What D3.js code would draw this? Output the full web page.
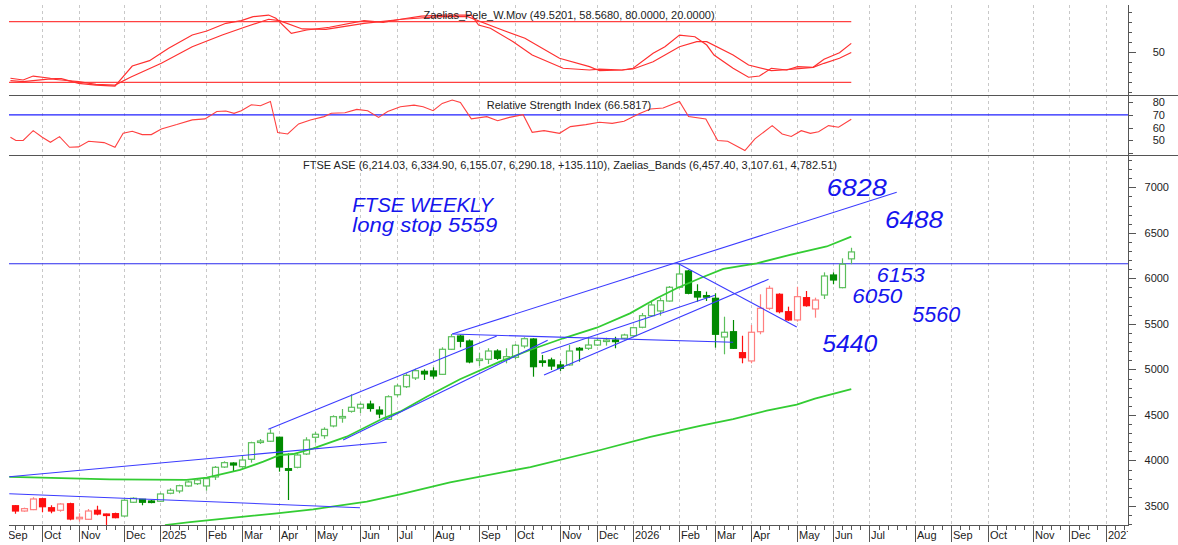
<!DOCTYPE html>
<html><head><meta charset="utf-8">
<script src="https://cdn.jsdelivr.net/npm/d3@7/dist/d3.min.js"></script>
<style>
body{margin:0;background:#fff}
svg{display:block}
text{font-family:"Liberation Sans",Arial,sans-serif}
</style></head>
<body><svg id="chart" width="1178" height="545"></svg>
<script>
// ---------------- DATA ----------------
// weekly bars, week index 1..93 (week 0 = Fri 6 Sep 2024)
const firstWeek = 1;
const opens  = [3503,3445,3460,3580,3481,3453,3525,3374,3354,3453,3412,3416,3390,3541,3574,3555,3552,3640,3665,3720,3745,3720,3819,3928,3972,3932,4013,4200,4211,4255,3910,3925,4071,4255,4272,4379,4481,4540,4576,4620,4554,4452,4722,4810,4906,4979,4983,4946,5221,5367,5312,5111,5111,5202,5111,5133,5257,5334,5093,5104,5049,5049,5232,5232,5268,5321,5323,5342,5370,5463,5590,5642,5751,5902,6081,5854,5810,5781,5356,5414,5184,5093,5414,5671,5825,5634,5543,5788,5664,5817,6037,5898,6214.03];
const highs  = [3511,3482,3596,3588,3508,3530,3536,3420,3467,3503,3416,3427,3574,3596,3577,3566,3646,3695,3734,3778,3800,3815,3939,3991,3980,4060,4206,4236,4343,4261,4079,4079,4255,4313,4364,4496,4565,4727,4635,4657,4595,4716,4840,4957,5008,5001,5023,5243,5389,5378,5329,5184,5232,5221,5232,5279,5353,5342,5159,5129,5093,5268,5246,5359,5342,5348,5359,5392,5469,5620,5744,5788,5916,6160,6092,5935,5854,5836,5579,5543,5370,5488,5825,5919,5836,5689,5908,5861,5788,6066,6066,6220,6334.90];
const lows   = [3415,3437,3455,3431,3420,3437,3343,3328,3346,3398,3281,3365,3383,3533,3508,3530,3545,3629,3640,3712,3731,3668,3786,3917,3874,3921,3976,4181,4203,3877,3566,3914,4060,4195,4239,4364,4415,4525,4521,4536,4463,4445,4700,4796,4884,4884,4898,4939,5213,5243,5067,5038,5060,5104,5067,5111,5232,4920,5030,4994,4983,5041,5085,5213,5257,5261,5232,5331,5359,5452,5579,5590,5744,5891,5825,5744,5751,5239,5166,5224,5067,5067,5386,5653,5616,5532,5524,5689,5568,5773,5935,5891,6155.07];
const closes = [3445,3471,3577,3492,3445,3522,3357,3376,3445,3412,3409,3372,3563,3585,3541,3541,3632,3673,3723,3764,3786,3800,3925,3976,3950,4005,4195,4214,4299,3928,3892,4060,4225,4288,4342,4481,4483,4584,4617,4571,4510,4700,4818,4935,4986,4950,4928,5221,5359,5309,5082,5114,5202,5122,5140,5265,5337,5030,5090,5037,5012,5202,5213,5268,5320,5323,5305,5378,5458,5590,5708,5755,5902,6048,5836,5795,5806,5386,5408,5232,5129,5408,5671,5891,5634,5543,5799,5700,5762,6026,5982,6155.07,6290.18];
const redWeekRanges = [[1,12],[81,89]];

// Zaelias_Bands (upper / lower), [week, value]
const bandUpper = [[0.37,3819],[3.94,3811],[11.45,3793],[19.89,3786],[22.09,3811],[25.75,3896],[28.32,3987],[30.15,4060],[31.62,4071],[33.82,4134],[37.49,4261],[41.52,4463],[43.36,4536],[46.29,4700],[49.95,4892],[54.35,5085],[57.66,5213],[61.32,5342],[65,5458],[68.66,5616],[71.6,5781],[73.8,5891],[76.36,6001],[78.92,6103],[82.6,6165],[86.26,6257],[90.3,6350],[93,6457.40]];
const bandLower = [[17.5,3291],[20.25,3324],[29.8,3420],[33.8,3464],[39.7,3547],[43.35,3629],[48.86,3760],[57.7,3928],[65.4,4115],[70.9,4258],[76.36,4379],[80,4455],[83.7,4547],[87,4613],[89,4680],[93,4782.51]];

// hand-drawn trend lines [[week,value],[week,value]]
const trendLines = [
  [[0.37,3822],[41.9,4200]],
  [[0.37,3635],[38.95,3481]],
  [[28.87,4343],[54,5367]],
  [[37.1,4225],[59.6,5320]],
  [[49.1,5389],[80,5298]],
  [[49.1,5389],[98,6945]],
  [[58.9,5177],[78,5814]],
  [[59.2,4939],[83.9,5990]],
  [[73.8,6172],[87,5466]]
];
const stopLevel = 6160;

// Zaelias_Pele_W.Mov lines [week, value]
const peleFast = [[0.5,24],[1.9,22.3],[3,26.2],[4.9,24],[6.1,23.6],[8,19],[9.9,17.3],[12,16.3],[13.9,36.1],[15.8,41.4],[17.9,53.7],[20.5,66.8],[22.1,70.8],[24.2,78.4],[25.9,81],[27.2,85],[28.9,86.6],[29.7,83.4],[31.4,68.5],[33.1,71.8],[35.6,74.5],[39.4,81],[41.5,79.4],[43.6,82.7],[45.7,85.6],[48.2,86.6],[51.2,86.6],[52,76.7],[53.3,73.5],[55.8,60.2],[57.9,47],[61.3,33.9],[64.2,32.2],[65.3,33],[67.8,32.2],[69,33.9],[71.2,48.7],[72.5,55.2],[74.1,66.8],[75.8,65.1],[77.1,56.9],[77.9,47],[80,33.9],[81.7,25],[82.9,26.2],[84.2,33.9],[85.9,32.2],[87.1,35.5],[88.8,34.8],[90,42.8],[91.7,49.3],[93,58.568]];
const peleSlow = [[0.5,21.6],[1.9,20.6],[4.9,23.3],[6.1,22.3],[8,20.6],[9.9,18],[12,17.3],[13.7,25],[17.1,38.8],[20.5,55.2],[23.8,66.8],[26.4,75],[28.9,82.4],[30.1,81],[32.6,72.8],[35.2,72.5],[39.4,78.4],[43.6,82.4],[47.8,85],[50.8,85],[54.1,73.5],[57.1,63.6],[60.9,43.8],[64.2,35.5],[65.3,31.5],[67.8,32.2],[69,33.2],[71.2,40.4],[74.1,55.2],[76,60.2],[77.1,60.2],[80,47],[81.7,37.1],[84.2,31.5],[85.9,32.5],[88.8,34.8],[90,38.8],[91.7,43.8],[93,49.5201]];
const peleLevels = [80,20];

// RSI [week, value]
const rsi = [[0.5,52.4],[1.1,49.8],[1.9,49.9],[3,57.6],[4,52.4],[4.9,48.4],[5.9,52.9],[7,44.5],[8,44.8],[9.1,49.2],[10.8,48.2],[12,44.5],[12.9,55.5],[13.9,57.1],[15,54.5],[16,54.5],[17.1,59],[18.8,62.4],[20.5,66.1],[21.9,66.9],[23.2,72.8],[24.2,73.1],[25.1,71.3],[25.9,73.4],[27,78.1],[28,77.3],[29.1,80.7],[29.9,56.1],[31,55],[32.2,62.9],[33.5,66.1],[35,68.7],[35.8,71.3],[37.3,71.8],[38.6,74.4],[39.8,73.4],[41,68.1],[42,72.8],[43.4,76.5],[44.9,77.8],[45.9,76.5],[47,73.4],[48,79.1],[49.1,81.8],[50,79.9],[51.2,66.9],[52.9,68.7],[54.1,65.5],[55.4,68.1],[56.9,70.2],[57.9,56.3],[59.2,57.6],[60.9,55.5],[62.1,60.8],[63.8,62.4],[65.3,64.2],[66.7,63.4],[68,65],[69.6,70.8],[70.9,74.7],[72.3,75.5],[74.1,80.7],[75.1,68.7],[77,66.9],[78.3,49.8],[79.4,49.2],[81.3,41.9],[82.4,51.1],[84.3,61.6],[85.4,55],[86.4,53],[87.5,57.6],[88.5,55.5],[89.4,56.8],[90.5,61.6],[91.6,60.3],[93,66.5817]];
const rsiLevel = 70;

// x axis: first weekly bar of each month
const monthTickWeeks  = [0,4,8,13,17,22,26,30,34,39,43,47,52,56,61,65,69,74,78,82,87,91,95,100,104,108,113,117,121];
const monthTickLabels = ["Sep","Oct","Nov","Dec","2025","Feb","Mar","Apr","May","Jun","Jul","Aug","Sep","Oct","Nov","Dec","2026","Feb","Mar","Apr","May","Jun","Jul","Aug","Sep","Oct","Nov","Dec","2027"];
const priceTicks = [3500,4000,4500,5000,5500,6000,6500,7000];
const rsiTicks = [50,60,70,80];
const peleTicks = [50];

const titlePele = "Zaelias_Pele_W.Mov (49.5201, 58.5680, 80.0000, 20.0000)";
const titleRsi = "Relative Strength Index (66.5817)";
const titleMain = "FTSE ASE (6,214.03, 6,334.90, 6,155.07, 6,290.18, +135.110), Zaelias_Bands (6,457.40, 3,107.61, 4,782.51)";
// hand-written notes [text, week, value]
const notes = [["FTSE WEEKLY",38.1,6729],["long stop 5559",38.1,6505],["6828",90.3,6905],["6488",96.7,6553],["6153",95.8,5960],["6050",93.1,5725],["5560",99.7,5521],["5440",89.8,5191]];
const noteWidths = [141,145,60,58,48,50,48,55];
const noteSizes = [20,20,23,23,21,21,22,23];

// ---------------- LAYOUT ----------------
const svg = d3.select("#chart");
const L = 9, R = 1128;
const panels = {pele:[5,95.5], rsi:[95.5,155.5], main:[155.5,525]};
const x = d3.scaleLinear().domain([0,121]).range([5.9, 5.9+121*9.09]);
const yMain = d3.scaleLinear().domain([3500,7000]).range([506,187.3]);
const yPele = d3.scaleLinear().domain([20,80]).range([82.3,21.7]);
const yRsi = d3.scaleLinear().domain([50,80]).range([140.3,102.3]);

const defs = svg.append("defs");
function clip(id,y0,y1){defs.append("clipPath").attr("id",id).append("rect").attr("x",L).attr("y",y0).attr("width",R-L).attr("height",y1-y0);}
clip("cPele",panels.pele[0],panels.pele[1]);
clip("cRsi",panels.rsi[0],panels.rsi[1]);
clip("cMain",panels.main[0],panels.main[1]);
clip("cAxis",525,545);
clip("cGrid",5,525);

// grid
svg.append("g").attr("clip-path","url(#cGrid)").selectAll("line").data(monthTickWeeks).join("line")
  .attr("x1",d=>Math.round(x(d))+0.5).attr("x2",d=>Math.round(x(d))+0.5).attr("y1",5).attr("y2",525)
  .attr("stroke","#c8c8c8").attr("stroke-dasharray","3,3");

// panel separators
[95.5,155.5].forEach(y=>svg.append("line").attr("x1",L).attr("x2",1178).attr("y1",y).attr("y2",y).attr("stroke","#555").attr("stroke-width",1));
svg.append("line").attr("x1",L).attr("x2",R).attr("y1",525.5).attr("y2",525.5).attr("stroke","#555");
svg.append("line").attr("x1",R+0.5).attr("x2",R+0.5).attr("y1",5).attr("y2",526).attr("stroke","#555");

// ----- Pele panel -----
const gP = svg.append("g").attr("clip-path","url(#cPele)");
gP.selectAll("line.lv").data(peleLevels).join("line").attr("class","lv")
  .attr("x1",L).attr("x2",x(93)).attr("y1",d=>yPele(d)).attr("y2",d=>yPele(d)).attr("stroke","#ff4040").attr("stroke-width",1.2);
const lineP = d3.line().x(d=>x(d[0])).y(d=>yPele(d[1]));
[peleFast,peleSlow].forEach(s=>gP.append("path").attr("d",lineP(s)).attr("fill","none").attr("stroke","#ff3030").attr("stroke-width",1.2));
svg.append("text").attr("x",569).attr("y",19).attr("text-anchor","middle").attr("font-size",11).attr("fill","#222").text(titlePele);

// ----- RSI panel -----
const gR = svg.append("g").attr("clip-path","url(#cRsi)");
gR.append("line").attr("x1",L).attr("x2",R).attr("y1",yRsi(rsiLevel)).attr("y2",yRsi(rsiLevel)).attr("stroke","#2020ff").attr("stroke-width",1.2);
gR.append("path").attr("d",d3.line().x(d=>x(d[0])).y(d=>yRsi(d[1]))(rsi)).attr("fill","none").attr("stroke","#ff4040").attr("stroke-width",1.1);
svg.append("text").attr("x",569).attr("y",109).attr("text-anchor","middle").attr("font-size",11).attr("fill","#222").text(titleRsi);

// ----- Main panel -----
const gM = svg.append("g").attr("clip-path","url(#cMain)");
gM.append("line").attr("x1",L).attr("x2",R).attr("y1",yMain(stopLevel)).attr("y2",yMain(stopLevel)).attr("stroke","#2a2aee").attr("stroke-width",1.1);

const isRed = k => redWeekRanges.some(r=>k>=r[0]&&k<=r[1]);
const candles = opens.map((o,i)=>({k:firstWeek+i,o,h:highs[i],l:lows[i],c:closes[i]}));
const cg = gM.append("g");
candles.forEach(d=>{
  const up = d.c>=d.o, red = isRed(d.k);
  const col = red ? (up?"#ff7f7f":"#ff1010") : (up?"#5cbf5c":"#008a00");
  const fill = up ? "#ffffff" : col;
  const cx = Math.round(x(d.k))+0.5;
  cg.append("line").attr("x1",cx).attr("x2",cx).attr("y1",yMain(d.h)).attr("y2",yMain(d.l)).attr("stroke",col).attr("stroke-width",1.2);
  const yt = yMain(Math.max(d.o,d.c)), yb = yMain(Math.min(d.o,d.c));
  const hgt = Math.max(1.5,yb-yt);
  cg.append("rect").attr("x",cx-3).attr("y",yt).attr("width",6).attr("height",hgt).attr("fill",fill).attr("stroke",col).attr("stroke-width",1.2);
});

const lineM = d3.line().x(d=>x(d[0])).y(d=>yMain(d[1]));
[bandUpper,bandLower].forEach(b=>gM.append("path").attr("d",lineM(b)).attr("fill","none").attr("stroke","#33cc33").attr("stroke-width",1.8));
gM.selectAll("path.tl").data(trendLines).join("path").attr("class","tl").attr("d",lineM).attr("fill","none").attr("stroke","#3b3bff").attr("stroke-width",1.1);

svg.append("text").attr("x",570).attr("y",169).attr("text-anchor","middle").attr("font-size",11).attr("fill","#222").text(titleMain);

// notes
svg.selectAll("text.note").data(notes).join("text").attr("class","note")
  .attr("x",d=>x(d[1])).attr("y",d=>yMain(d[2]))
  .attr("textLength",(d,i)=>noteWidths[i]).attr("lengthAdjust","spacingAndGlyphs")
  .attr("font-size",(d,i)=>noteSizes[i]).attr("font-style","italic")
  .attr("fill","#1515ee").text(d=>d[0]);

// ----- axes -----
const minorP = d3.range(3300,7400,100);
svg.selectAll("line.pt").data(minorP).join("line").attr("class","pt")
  .attr("x1",R).attr("x2",d=>d%500===0?R+8:R+4).attr("y1",d=>Math.round(yMain(d))+0.5).attr("y2",d=>Math.round(yMain(d))+0.5).attr("stroke","#555");
svg.selectAll("text.pl").data(priceTicks).join("text").attr("class","pl")
  .attr("x",1169).attr("y",d=>yMain(d)+4).attr("text-anchor","end").attr("font-size",11).attr("fill","#222").text(d=>d);
const minorPele = d3.range(10,100,10);
svg.selectAll("line.pet").data(minorPele).join("line").attr("class","pet")
  .attr("x1",R).attr("x2",d=>d===50?R+8:R+4).attr("y1",d=>Math.round(yPele(d))+0.5).attr("y2",d=>Math.round(yPele(d))+0.5).attr("stroke","#555");
svg.selectAll("text.pel").data(peleTicks).join("text").attr("class","pel")
  .attr("x",1165).attr("y",d=>yPele(d)+4).attr("text-anchor","end").attr("font-size",11).attr("fill","#222").text(d=>d);
const minorRsi = d3.range(40,90,10);
svg.selectAll("line.rt").data(minorRsi).join("line").attr("class","rt")
  .attr("x1",R).attr("x2",R+5).attr("y1",d=>Math.round(yRsi(d))+0.5).attr("y2",d=>Math.round(yRsi(d))+0.5).attr("stroke","#555");
svg.selectAll("text.rl").data(rsiTicks).join("text").attr("class","rl")
  .attr("x",1165).attr("y",d=>yRsi(d)+4).attr("text-anchor","end").attr("font-size",11).attr("fill","#222").text(d=>d);

const gX = svg.append("g").attr("clip-path","url(#cAxis)");
gX.selectAll("line.wt").data(d3.range(0,124)).join("line").attr("class","wt")
  .attr("x1",d=>Math.round(x(d))+0.5).attr("x2",d=>Math.round(x(d))+0.5)
  .attr("y1",525).attr("y2",d=>monthTickWeeks.includes(d)?542:530).attr("stroke","#555");
gX.selectAll("text.ml").data(monthTickWeeks).join("text").attr("class","ml")
  .attr("x",d=>Math.round(x(d))+2).attr("y",539).attr("font-size",11).attr("fill","#222")
  .text((d,i)=>monthTickLabels[i]);
</script></body></html>
